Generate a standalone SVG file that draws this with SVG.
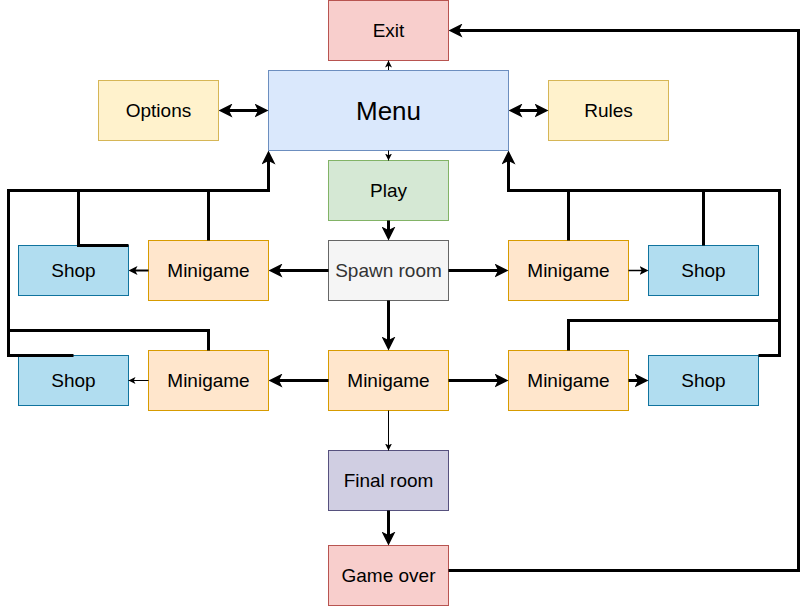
<svg xmlns="http://www.w3.org/2000/svg" width="809" height="606" viewBox="0 0 809 606">
<style>
  text { font-family: "Liberation Sans", Arial, Helvetica, sans-serif; font-size: 19px; text-anchor: middle; fill: #000000; }
  .red { fill: #f8cecc; stroke: #b85450; }
  .blue { fill: #dae8fc; stroke: #6c8ebf; }
  .yellow { fill: #fff2cc; stroke: #d6b656; }
  .green { fill: #d5e8d4; stroke: #82b366; }
  .grey { fill: #f5f5f5; stroke: #666666; }
  .orange { fill: #ffe6cc; stroke: #d79b00; }
  .shop { fill: #b1ddf0; stroke: #10739e; }
  .purple { fill: #d0cee2; stroke: #56517e; }
  .e3 { fill: none; stroke: #000000; stroke-width: 3; }
  .e2 { fill: none; stroke: #000000; stroke-width: 2; }
  .e15 { fill: none; stroke: #000000; stroke-width: 1.5; }
  .e1 { fill: none; stroke: #000000; stroke-width: 1; }
</style>
<defs>
  <marker id="big" markerUnits="userSpaceOnUse" markerWidth="14" markerHeight="14" viewBox="0 0 14 14" refX="10" refY="7" orient="auto-start-reverse">
    <path d="M0,0 L14,7 L0,14 L3.5,7 Z" fill="#000000"/>
  </marker>
  <marker id="med" markerUnits="userSpaceOnUse" markerWidth="9" markerHeight="9" viewBox="0 0 9 9" refX="6" refY="4.5" orient="auto">
    <path d="M0,0 L9,4.5 L0,9 L2.25,4.5 Z" fill="#000000"/>
  </marker>
  <marker id="small" markerUnits="userSpaceOnUse" markerWidth="7" markerHeight="7" viewBox="0 0 7 7" refX="7" refY="3.5" orient="auto">
    <path d="M0,0 L7,3.5 L0,7 L1.75,3.5 Z" fill="#000000"/>
  </marker>
</defs>
<rect width="809" height="606" fill="#ffffff"/>
<g id="exit"><rect class="red" x="328.5" y="0.5" width="120" height="60"/><text x="388.5" y="37">Exit</text></g>
<g id="menu"><rect class="blue" x="268.5" y="70.5" width="240" height="80"/><text x="388.5" y="119.5" style="font-size:26px">Menu</text></g>
<g id="options"><rect class="yellow" x="98.5" y="80.5" width="120" height="60"/><text x="158.5" y="117">Options</text></g>
<g id="rules"><rect class="yellow" x="548.5" y="80.5" width="120" height="60"/><text x="608.5" y="117">Rules</text></g>
<g id="play"><rect class="green" x="328.5" y="160.5" width="120" height="60"/><text x="388.5" y="197">Play</text></g>
<g id="spawn"><rect class="grey" x="328.5" y="240.5" width="120" height="60"/><text x="388.5" y="277" style="fill:#333333">Spawn room</text></g>
<g id="minigame-lt"><rect class="orange" x="148.5" y="240.5" width="120" height="60"/><text x="208.5" y="277">Minigame</text></g>
<g id="shop-lt"><rect class="shop" x="18.5" y="245.5" width="110" height="50"/><text x="73.5" y="277">Shop</text></g>
<g id="minigame-rt"><rect class="orange" x="508.5" y="240.5" width="120" height="60"/><text x="568.5" y="277">Minigame</text></g>
<g id="shop-rt"><rect class="shop" x="648.5" y="245.5" width="110" height="50"/><text x="703.5" y="277">Shop</text></g>
<g id="minigame-c"><rect class="orange" x="328.5" y="350.5" width="120" height="60"/><text x="388.5" y="387">Minigame</text></g>
<g id="minigame-lb"><rect class="orange" x="148.5" y="350.5" width="120" height="60"/><text x="208.5" y="387">Minigame</text></g>
<g id="shop-lb"><rect class="shop" x="18.5" y="355.5" width="110" height="50"/><text x="73.5" y="387">Shop</text></g>
<g id="minigame-rb"><rect class="orange" x="508.5" y="350.5" width="120" height="60"/><text x="568.5" y="387">Minigame</text></g>
<g id="shop-rb"><rect class="shop" x="648.5" y="355.5" width="110" height="50"/><text x="703.5" y="387">Shop</text></g>
<g id="final"><rect class="purple" x="328.5" y="450.5" width="120" height="60"/><text x="388.5" y="487">Final room</text></g>
<g id="gameover"><rect class="red" x="328.5" y="545.5" width="120" height="60"/><text x="388.5" y="582">Game over</text></g>
<g id="connectors">
  <path class="e1" d="M388.5,70 V60.5" marker-end="url(#small)"/>
  <path class="e3" d="M222.5,110.5 H264.5" marker-start="url(#big)" marker-end="url(#big)"/>
  <path class="e3" d="M512.5,110.5 H544.5" marker-start="url(#big)" marker-end="url(#big)"/>
  <path class="e1" d="M388.5,150.5 V160.5" marker-end="url(#small)"/>
  <path class="e3" d="M388.5,220.5 V236.5" marker-end="url(#big)"/>
  <path class="e3" d="M328.5,270.5 H272.5" marker-end="url(#big)"/>
  <path class="e3" d="M448.5,270.5 H504.5" marker-end="url(#big)"/>
  <path class="e2" d="M148.5,270.5 H131.5" marker-end="url(#med)"/>
  <path class="e15" d="M628.5,270.5 H645.5" marker-end="url(#med)"/>
  <path class="e3" d="M388.5,300.5 V346.5" marker-end="url(#big)"/>
  <path class="e3" d="M328.5,380.5 H272.5" marker-end="url(#big)"/>
  <path class="e3" d="M448.5,380.5 H504.5" marker-end="url(#big)"/>
  <path class="e1" d="M148.5,380.5 H128.5" marker-end="url(#small)"/>
  <path class="e3" d="M628.5,380.5 H644.5" marker-end="url(#big)"/>
  <path class="e1" d="M388.5,410.5 V450.5" marker-end="url(#small)"/>
  <path class="e3" d="M388.5,510.5 V541.5" marker-end="url(#big)"/>
  <path class="e3" d="M448.5,570.5 H798.5 V30.5 H452.5" marker-end="url(#big)"/>
  <path class="e3" d="M208.5,240.5 V190.5 H268.5 V154.5" marker-end="url(#big)"/>
  <path class="e3" d="M128.5,245.5 H78.5 V190.5 H268.5"/>
  <path class="e3" d="M73.5,355.5 H8.5 V190.5 H78.5"/>
  <path class="e3" d="M208.5,350.5 V330.5 H8.5"/>
  <path class="e3" d="M568.5,240.5 V190.5 H508.5 V154.5" marker-end="url(#big)"/>
  <path class="e3" d="M703.5,245.5 V190.5 H568.5"/>
  <path class="e3" d="M758.5,355.5 H779.5 V190.5 H703.5"/>
  <path class="e3" d="M568.5,350.5 V320.5 H779.5"/>
</g>
</svg>
